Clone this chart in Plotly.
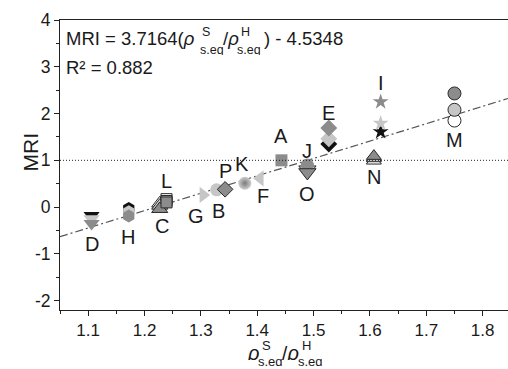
import plotly.graph_objects as go

# ---------------- data ----------------
samples = ["D", "H", "C", "L", "G", "B", "P", "K", "F", "A", "J", "O", "E", "N", "I", "M"]
ratio = [1.106, 1.172, 1.227, 1.239, 1.304, 1.328, 1.343, 1.378, 1.405, 1.443,
         1.489, 1.489, 1.527, 1.607, 1.619, 1.750]
mri_dark = [-0.35, -0.19, -0.04, 0.10, None, None, 0.38, None, None, 1.00,
            0.90, 0.74, 1.69, 1.09, 2.25, 2.43]
mri_light = [-0.25, -0.10, 0.03, 0.13, 0.26, 0.37, None, 0.51, 0.615, None,
             None, 0.80, 1.46, 1.04, 1.79, 2.08]
mri_third = [-0.18, -0.03, 0.08, 0.17, None, None, None, None, None, None,
             None, None, 1.35, 0.99, 1.61, 1.85]
fit_slope = 3.7164
fit_intercept = -4.5348
r_squared = 0.882
ref_level = 1.0

x_ticks = [1.1, 1.2, 1.3, 1.4, 1.5, 1.6, 1.7, 1.8]
y_ticks = [-2, -1, 0, 1, 2, 3, 4]

# ---------------- styles ----------------
FONT = "Arial, Liberation Sans, sans-serif"
DARK = "#8c8c8c"
LIGHT = "#c6c6c6"
OUT = "#2a2a2a"

# symbol, size, outlined?, third-series fill
STYLE = {
    "D": ("triangle-down", 14, False, "#111111"),
    "H": ("hexagon", 13, False, "#111111"),
    "C": ("triangle-up", 14, True, "#ffffff"),
    "L": ("square", 11, True, "#ffffff"),
    "G": ("triangle-right", 14, False, None),
    "B": ("circle", 13, False, None),
    "P": ("diamond", 12, True, None),
    "K": ("circle", 13, False, None),
    "F": ("triangle-left", 14, False, None),
    "A": ("square", 12, False, None),
    "J": ("circle", 13, False, None),
    "O": ("triangle-down", 15, True, None),
    "E": ("diamond", 13, False, "#111111"),
    "N": ("triangle-up", 13, True, "#ffffff"),
    "I": ("star", 12, False, "#111111"),
    "M": ("circle", 13, True, "#ffffff"),
}
# label offsets in pixels (dx right, dy up) from the first plotted marker of the sample
LABEL_SHIFT = {
    "D": (0, -21), "H": (-1, -21), "C": (2, -17), "L": (0, 21), "G": (-7, -21),
    "B": (2, -21), "P": (0, 18), "K": (-3, 19), "F": (3, -18), "A": (0, 24),
    "J": (0, 14), "O": (0, -21.5), "E": (0, 15.5), "N": (0, -21), "I": (0, 19),
    "M": (0, -47),
}

fig = go.Figure()

# regression line
xr = [1.05, 1.845]
fig.add_trace(go.Scatter(
    x=xr, y=[fit_slope * v + fit_intercept for v in xr], mode="lines",
    line=dict(color="#555555", width=1.2, dash="8px,3px,2px,3px"),
    hoverinfo="skip"))


def series_trace(values, color_fn):
    xs, ys, sym, size, col, lw, gtype, gcol = [], [], [], [], [], [], [], []
    for s, xv, yv in zip(samples, ratio, values):
        if yv is None:
            continue
        st = STYLE[s]
        c = color_fn(s)
        if c is None:
            continue
        xs.append(xv)
        ys.append(yv)
        sym.append(st[0])
        size.append(st[1])
        col.append(c)
        outlined = st[2] or c == "#ffffff"
        lw.append(1 if outlined else 0)
        if s == "K":
            gtype.append("radial")
            gcol.append("#7a7a7a")
        else:
            gtype.append("none")
            gcol.append(c)
    return go.Scatter(
        x=xs, y=ys, mode="markers", hoverinfo="skip",
        marker=dict(symbol=sym, size=size, color=col, opacity=1,
                    line=dict(color=OUT, width=lw),
                    gradient=dict(type=gtype, color=gcol)))


fig.add_trace(series_trace(mri_third, lambda s: STYLE[s][3]))
fig.add_trace(series_trace(mri_light, lambda s: "#cfcfcf" if s == "K" else LIGHT))
fig.add_trace(series_trace(mri_dark, lambda s: DARK))

# sample labels
for s, xv, d, l, t in zip(samples, ratio, mri_dark, mri_light, mri_third):
    anchor = next(v for v in (d, l, t) if v is not None)
    dx, dy = LABEL_SHIFT[s]
    fig.add_annotation(x=xv, y=anchor, xref="x", yref="y", text=s, showarrow=False,
                       xanchor="center", yanchor="middle", xshift=dx, yshift=dy,
                       font=dict(family=FONT, size=20, color="#1a1a1a"))

# reference level line
fig.add_shape(type="line", xref="paper", yref="y", x0=0, x1=1, y0=ref_level, y1=ref_level,
              line=dict(color="#222222", width=1, dash="1px,2px"))

# pixel-positioned text helper
L, R, T, B, W, H = 60, 508, 20, 310, 508, 369


def txt(px, py, s, size, xanchor="left", angle=0, box_h=None):
    kw = {}
    if box_h is not None:
        kw["height"] = box_h
    fig.add_annotation(x=(px - L) / (R - L), y=(B - py) / (B - T), xref="paper", yref="paper",
                       text=s, showarrow=False, xanchor=xanchor, yanchor="middle",
                       textangle=angle, borderpad=0,
                       font=dict(family=FONT, size=size, color="#1a1a1a"), **kw)


# equation box text
txt(65, 38.5, "MRI = %.4f(<i>ρ</i>" % fit_slope, 18.5)
txt(201, 31.5, "S", 12.5, box_h=10)
txt(199, 49.5, "s.eq", 12.5, box_h=10)
txt(222, 38.5, "/<i>ρ</i>", 18.5)
txt(240, 31.5, "H", 12.5, box_h=10)
txt(236, 49.5, "s.eq", 12.5, box_h=10)
txt(263, 38.5, ") - %.4f" % (-fit_intercept), 18.5)
txt(65, 67.5, "R² = %.3f" % r_squared, 18.5)

# x-axis title
txt(246, 353, "<i>ρ</i>", 20, box_h=14)
txt(261, 345, "S", 13, box_h=9)
txt(257, 361, "s.eq", 13, box_h=9)
txt(281, 353, "/<i>ρ</i>", 20, box_h=14)
txt(301, 345, "H", 13, box_h=9)
txt(297, 361, "s.eq", 13, box_h=9)

# y-axis title
txt(30, 152.5, "MRI", 21, xanchor="center", angle=-90)

fig.update_layout(
    width=W, height=H, margin=dict(l=L, r=W - R, t=T, b=H - B),
    paper_bgcolor="white", plot_bgcolor="white", showlegend=False,
    font=dict(family=FONT, color="#1a1a1a"),
    xaxis=dict(range=[1.05, 1.845], tickvals=x_ticks, ticktext=[str(v) for v in x_ticks],
               ticks="outside", ticklen=5, tickwidth=1, tickcolor="#222222",
               minor=dict(dtick=0.05, tick0=1.05, ticks="outside", ticklen=3, tickcolor="#222222"),
               showgrid=False, zeroline=False, showline=True, linecolor="#222222", linewidth=1,
               mirror=True, tickfont=dict(size=17)),
    yaxis=dict(range=[-2.2, 4], tickvals=y_ticks, ticktext=[str(v) for v in y_ticks],
               ticks="outside", ticklen=5, tickwidth=1, tickcolor="#222222",
               minor=dict(dtick=0.5, tick0=0, ticks="outside", ticklen=3, tickcolor="#222222"),
               showgrid=False, zeroline=False, showline=True, linecolor="#222222", linewidth=1,
               tickfont=dict(size=17.5)),
)

fig.write_html("out.html")
